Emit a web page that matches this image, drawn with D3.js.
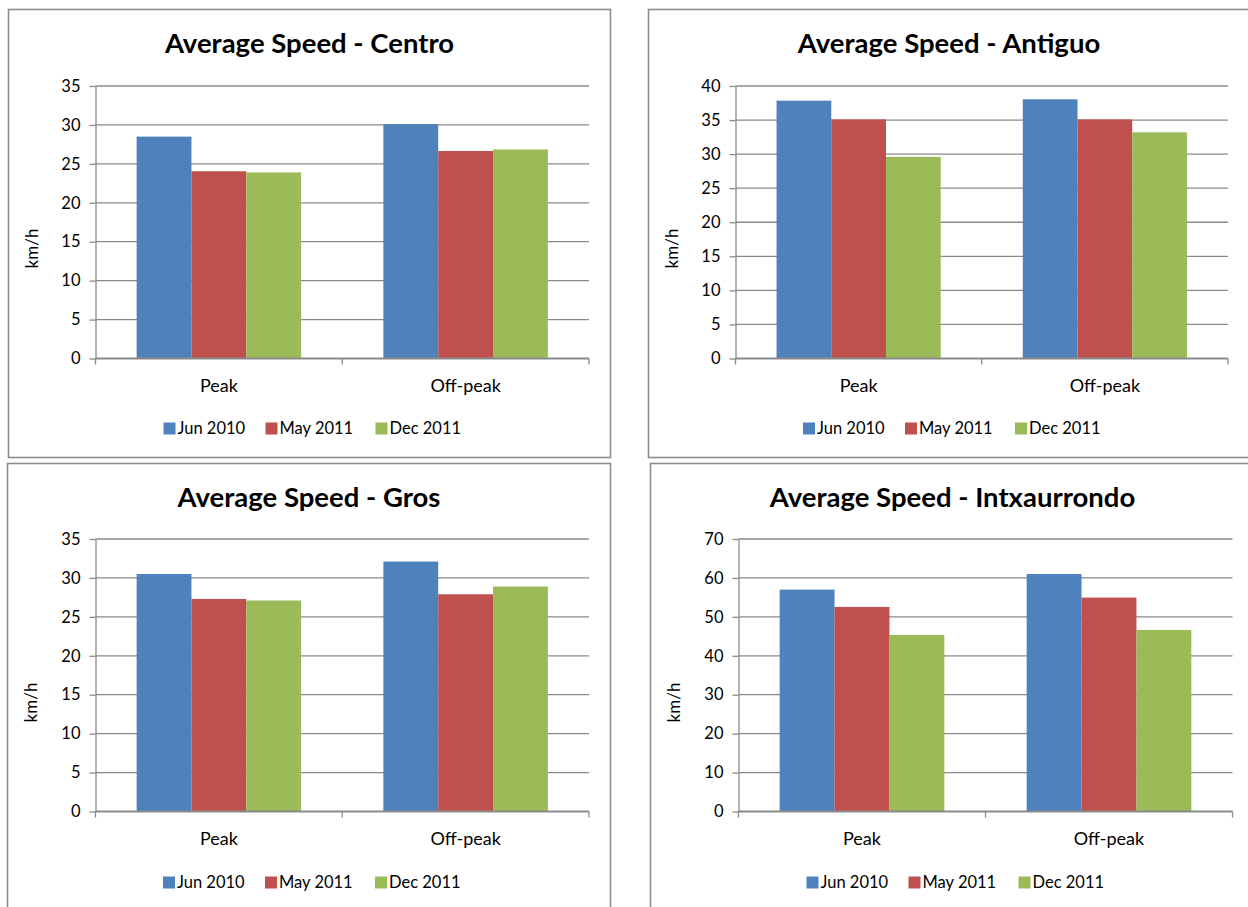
<!DOCTYPE html>
<html>
<head>
<meta charset="utf-8">
<script src="https://cdn.jsdelivr.net/npm/d3@7"></script>
<style>
  html, body { margin: 0; padding: 0; background: #fff; }
  svg { display: block; }
  text { font-family: Lato, "Open Sans", sans-serif; fill: #000; }
</style>
</head>
<body>
<svg id="chart" width="1248" height="907"></svg>
<script>
// ---- data ----
const categories = ["Peak", "Off-peak"];
const seriesNames = ["Jun 2010", "May 2011", "Dec 2011"];
const seriesColors = ["#4F81BD", "#C0504D", "#9BBB59"];
const districts = ["Centro", "Antiguo", "Gros", "Intxaurrondo"];
const titlePrefix = "Average Speed - ";
const yLabel = "km/h";

// values per series: [Peak, Off-peak]
const centro  = [[28.5, 30.1], [24.05, 26.65], [23.9, 26.85]];
const antiguo = [[37.85, 38.05], [35.1, 35.1], [29.6, 33.2]];
const gros    = [[30.5, 32.1], [27.3, 27.9], [27.1, 28.9]];
const intxaurrondo = [[57.0, 61.0], [52.55, 54.95], [45.35, 46.65]];

const ticks35 = [0, 5, 10, 15, 20, 25, 30, 35];
const ticks40 = [0, 5, 10, 15, 20, 25, 30, 35, 40];
const ticks70 = [0, 10, 20, 30, 40, 50, 60, 70];

// ---- layout ----
const panels = [
  { name: districts[0], values: centro,       ticks: ticks35, fx: 8.5,   fy: 9.5,   fw: 602, fh: 448, pl: 95.5,  pr: 589,  pt: 86,  pb: 358.5 },
  { name: districts[1], values: antiguo,      ticks: ticks40, fx: 648.5, fy: 9.5,   fw: 601, fh: 448, pl: 735.5, pr: 1228, pt: 86,  pb: 358.5 },
  { name: districts[2], values: gros,         ticks: ticks35, fx: 7.5,   fy: 463.5, fw: 603, fh: 460, pl: 95.5,  pr: 589,  pt: 539, pb: 811.5 },
  { name: districts[3], values: intxaurrondo, ticks: ticks70, fx: 650.5, fy: 463.5, fw: 604, fh: 460, pl: 738.5, pr: 1232.5, pt: 539, pb: 811.5 }
];

const svg = d3.select("#chart");
const gridColor = "#8a8a8a";

panels.forEach(p => {
  const g = svg.append("g");
  // frame
  g.append("rect")
    .attr("x", p.fx).attr("y", p.fy)
    .attr("width", p.fw).attr("height", p.fh)
    .attr("fill", "#fff").attr("stroke", "#8c8c8c").attr("stroke-width", 1.6);

  const cx = p.fx + p.fw / 2;
  // title
  g.append("text")
    .attr("x", cx).attr("y", p.fy + 43)
    .attr("text-anchor", "middle")
    .attr("font-size", 27.5).attr("font-weight", "bold")
    .text(titlePrefix + p.name);

  const yMax = p.ticks[p.ticks.length - 1];
  const y = d3.scaleLinear().domain([0, yMax]).range([p.pb, p.pt]);
  const x0 = d3.scaleBand().domain(categories).range([p.pl, p.pr])
    .paddingInner(1 / 3).paddingOuter(1 / 6);
  const x1 = d3.scaleBand().domain(seriesNames).range([0, x0.bandwidth()]);

  // gridlines
  g.append("g").selectAll("line").data(p.ticks.filter(t => t > 0)).join("line")
    .attr("x1", p.pl).attr("x2", p.pr)
    .attr("y1", d => y(d)).attr("y2", d => y(d))
    .attr("stroke", gridColor).attr("stroke-width", 1.3);

  // y axis
  const yAxis = d3.axisLeft(y).tickValues(p.ticks).tickSize(6).tickPadding(9).tickSizeOuter(0);
  const ya = g.append("g").attr("transform", `translate(${p.pl},0)`).call(yAxis);
  ya.select(".domain").attr("stroke", gridColor).attr("stroke-width", 1.3);
  ya.selectAll(".tick line").attr("stroke", gridColor).attr("stroke-width", 1.3);
  ya.selectAll(".tick text").attr("font-size", 16.5).attr("font-family", "Lato, sans-serif").attr("fill", "#000");

  // bars
  const data = [];
  p.values.forEach((vals, si) => vals.forEach((v, ci) => data.push({ s: seriesNames[si], c: categories[ci], v, si })));
  g.append("g").selectAll("rect").data(data).join("rect")
    .attr("x", d => x0(d.c) + x1(d.s))
    .attr("width", x1.bandwidth())
    .attr("y", d => y(d.v))
    .attr("height", d => y(0) - y(d.v))
    .attr("fill", d => seriesColors[d.si]);

  // x axis
  const xa = g.append("g").attr("transform", `translate(0,${p.pb})`);
  xa.append("line").attr("x1", p.pl).attr("x2", p.pr).attr("stroke", gridColor).attr("stroke-width", 1.8);
  const step = x0.step();
  const bounds = [p.pl, p.pl + step, p.pr];
  xa.selectAll("line.tk").data(bounds).join("line").attr("class", "tk")
    .attr("x1", d => d).attr("x2", d => d).attr("y1", 0).attr("y2", 6)
    .attr("stroke", gridColor).attr("stroke-width", 1.3);
  xa.selectAll("text").data(categories).join("text")
    .attr("x", d => x0(d) + x0.bandwidth() / 2)
    .attr("y", 33.5)
    .attr("text-anchor", "middle")
    .attr("font-size", 18)
    .text(d => d);

  // y label
  g.append("text")
    .attr("transform", `translate(${p.fx + 29},${p.fy + 239}) rotate(-90)`)
    .attr("text-anchor", "middle")
    .attr("font-size", 17)
    .text(yLabel);

  // legend
  const legendItems = [0, 102, 212];
  const lg = g.append("g").attr("transform", `translate(${cx - 146},${p.fy + 413})`);
  const li = lg.selectAll("g").data(seriesNames).join("g")
    .attr("transform", (d, i) => `translate(${legendItems[i]},0)`);
  li.append("rect").attr("width", 12).attr("height", 12).attr("fill", (d, i) => seriesColors[i]);
  li.append("text").attr("x", 14).attr("y", 11.5).attr("font-size", 16.5).text(d => d);
});
</script>
</body>
</html>
